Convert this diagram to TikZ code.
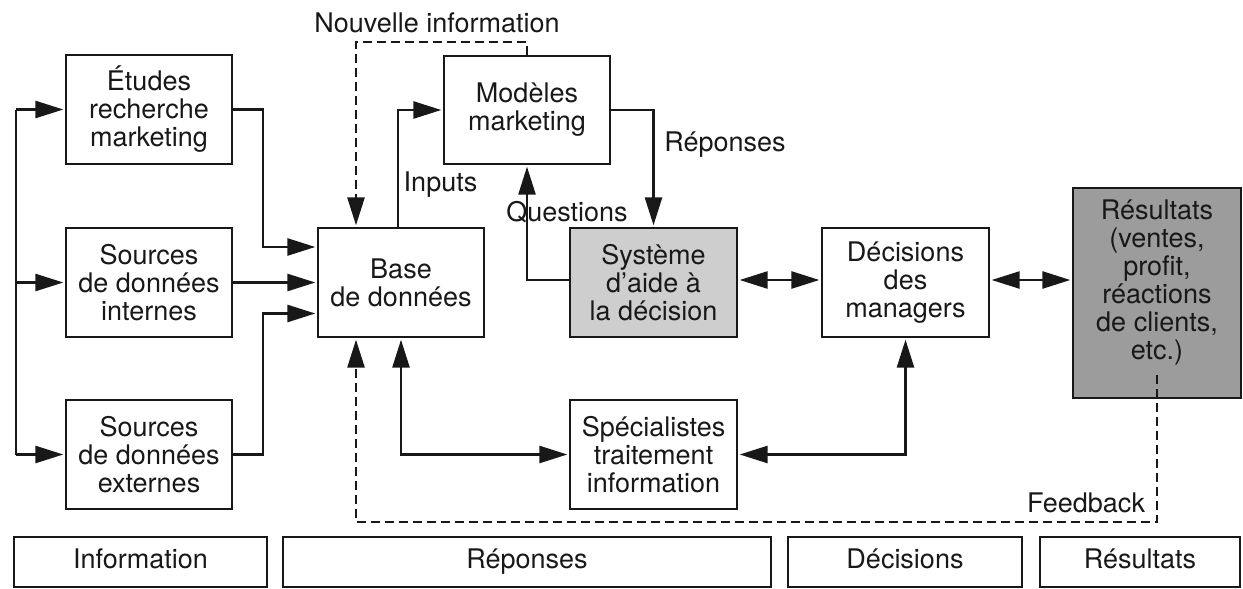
\documentclass[tikz,border=0pt]{standalone}
\usepackage{fontspec}
\setmainfont{TeX Gyre Heros}
\usetikzlibrary{arrows.meta}
\definecolor{ink}{RGB}{24,24,24}
\definecolor{softgray}{RGB}{206,206,206}
\definecolor{midgray}{RGB}{156,156,156}
\begin{document}
\begin{tikzpicture}[x=1pt,y=-1pt,
  every node/.style={font=\fontsize{27}{28}\selectfont, text=ink},
  box/.style={draw=ink, line width=2.3pt, rectangle, inner sep=0pt, align=center,
    minimum width=166pt, minimum height=109pt},
  band/.style={draw=ink, line width=2.3pt, rectangle, inner sep=0pt, minimum height=50pt,
    text height=19pt, text depth=6pt},
  lbl/.style={inner sep=0pt},
  wire/.style={draw=ink, line width=2.6pt},
  arr/.style={wire, -{Triangle[length=28pt,width=17pt]}, shorten >=1.5pt},
  arrboth/.style={wire,
    {Triangle[length=28pt,width=17pt]}-{Triangle[length=28pt,width=17pt]},
    shorten >=1.5pt, shorten <=1.5pt},
  dasharr/.style={arr, dash pattern=on 9pt off 5pt},
]
\useasboundingbox (0,0) rectangle (1243,589);

% information sources
\node[box] (etudes)   at (149,109.5) {Études\\recherche\\marketing};
\node[box] (internes) at (149,282.5) {Sources\\de données\\internes};
\node[box] (externes) at (149,454.5) {Sources\\de données\\externes};

% processing blocks
\node[box] (base)    at (401,282.5) {Base\\de données};
\node[box, minimum height=108pt] (modeles) at (527,110) {Modèles\\marketing};
\node[box, minimum width=167pt, fill=softgray] (sad) at (653.5,282.5) {Système\\d’aide à\\la décision};
\node[box, minimum width=167pt] (specialistes) at (653.5,454.5) {Spécialistes\\traitement\\information};
\node[box, minimum width=167pt] (decisions) at (905.5,282.5) {Décisions\\des\\managers};

% results block
\node[box, minimum width=168pt, minimum height=210pt, fill=midgray] (resultats) at (1157,293) {};
\node[lbl, align=center] (resultatsTxt) at (1157,283) {Résultats\\(ventes,\\profit,\\réactions\\de clients,\\etc.)};

% bottom bands
\node[band, minimum width=253pt] (bInfo) at (140.5,562) {Information};
\node[band, minimum width=488pt] (bRep)  at (527,562)   {Réponses};
\node[band, minimum width=234pt] (bDec)  at (905,562)   {Décisions};
\node[band, minimum width=200pt] (bRes)  at (1140,562)  {Résultats};

% distribution bus on the left
\coordinate (busTop) at (16,109.5);
\coordinate (busBot) at (16,454.5);
\draw[wire] (busTop) -- (busBot);
\draw[arr] (busTop) -- (etudes.west);
\draw[arr] (busTop |- internes.west) -- (internes.west);
\draw[arr] (busBot) -- (externes.west);

% sources into the database
\draw[arr] (etudes.east) -- ++(30,0) |- ([yshift=35.5pt]base.west);
\draw[arr] (internes.east) -- (base.west);
\draw[arr] (externes.east) -- ++(30,0) |- ([yshift=-31pt]base.west);

% database to models
\draw[arr] ([xshift=-3pt]base.north) |- (modeles.west);
\node[lbl] (inputsLbl) at (440.5,185) {Inputs};

% new information loop
\draw[dasharr] (modeles.north) -- ++(0,-13) -| ([xshift=-45pt]base.north);
\node[lbl] (nouvLbl) at (437,23) {Nouvelle information};

% answers and questions
\draw[arr] (modeles.east) -| (sad.north);
\node[lbl] (repLbl) at (725,145) {Réponses};
\draw[arr] ([yshift=2.5pt]sad.west) -| (modeles.south);
\node[lbl] (questLbl) at (567,212) {Questions};

% decision chain
\draw[arrboth] ([yshift=2.5pt]sad.east) -- ([yshift=2.5pt]decisions.west);
\draw[arrboth] ([yshift=2.5pt]decisions.east) -- ([yshift=2.5pt]decisions.east -| resultats.west);

% information specialists
\draw[arrboth] (base.south) |- (specialistes.west);
\draw[arrboth] (decisions.south) |- (specialistes.east);

% feedback loop
\coordinate (fbStart) at (1157,375);
\draw[dasharr] (fbStart) -- ++(0,147) -| ([xshift=-45pt]base.south);
\node[lbl] (fbLbl) at (1086,503) {Feedback};
\end{tikzpicture}
\end{document}
